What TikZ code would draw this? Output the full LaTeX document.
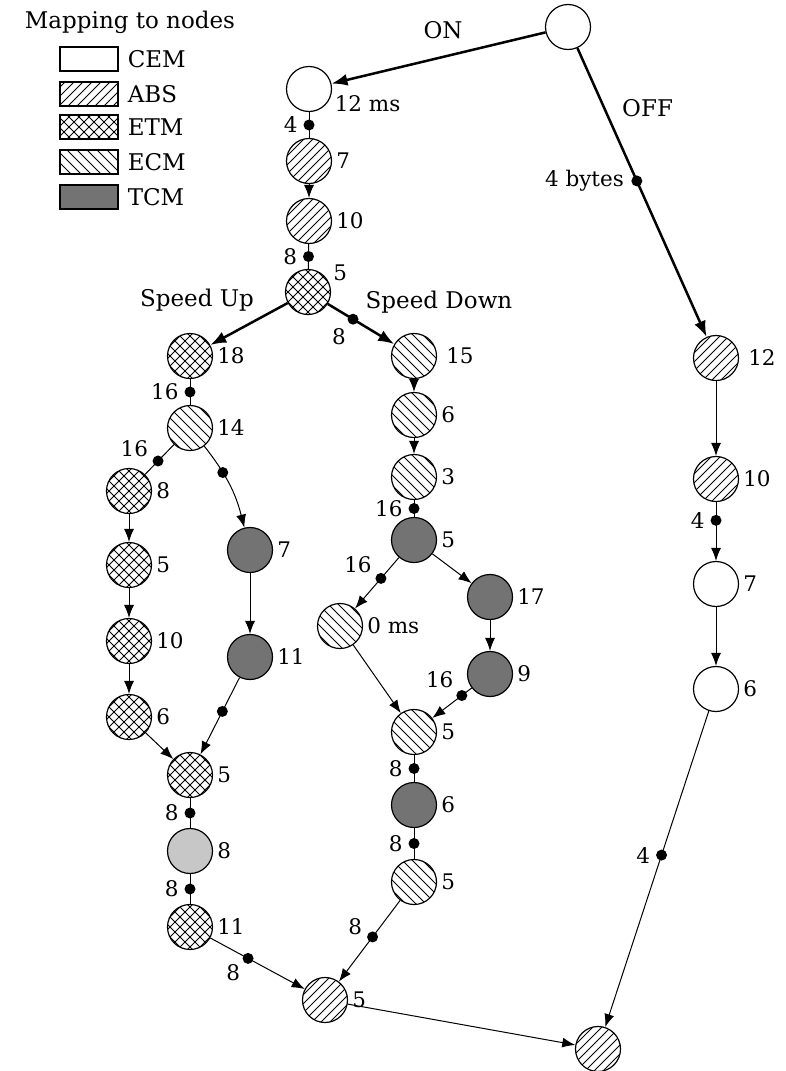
\documentclass[tikz,border=0pt]{standalone}
\usepackage{fontspec}
\setmainfont{DejaVu Serif}
\usetikzlibrary{arrows.meta}
\begin{document}
\begin{tikzpicture}[x=1pt,y=-1pt,
  every node/.style={font=\fontsize{21.5}{24}\selectfont},
  every label/.style={inner sep=1pt},
  label distance=3pt,
  big/.style={font=\fontsize{23}{26}\selectfont},
  hl/.style={line width=0.9pt},
  nd/.style={circle,draw,line width=1.2pt,minimum size=45pt,inner sep=0pt},
  pABS/.style={path picture={\foreach \i in {-81,-72,...,81}
      {\draw[hl] ([shift={(\i-40,40)}]path picture bounding box.center) -- ++(80,-80);}}},
  pECM/.style={path picture={\foreach \i in {-80,-70,...,80}
      {\draw[hl] ([shift={(\i-40,-40)}]path picture bounding box.center) -- ++(80,80);}}},
  pETM/.style={path picture={\foreach \i in {-80,-70,...,80}
      {\draw[hl] ([shift={(\i-40,40)}]path picture bounding box.center) -- ++(80,-80);
       \draw[hl] ([shift={(\i-40,-40)}]path picture bounding box.center) -- ++(80,80);}}},
  pTCM/.style={fill=black!55},
  pDOT/.style={fill=black!22},
  cem/.style={nd,fill=white},
  abs/.style={nd,pABS},
  ecm/.style={nd,pECM},
  etm/.style={nd,pETM},
  tcm/.style={nd,pTCM},
  dtn/.style={nd,pDOT},
  lgbox/.style={draw,line width=1.2pt,rectangle,minimum width=58pt,minimum height=24pt,inner sep=0pt},
  txt/.style={inner sep=0pt,big},
  ed/.style={line width=1pt},
  edA/.style={line width=1pt,-{Latex[length=13pt,width=10pt]}},
  thk/.style={line width=2.5pt,-{Latex[length=16pt,width=12pt]}},
  dotn/.style={circle,fill=black,minimum size=11pt,inner sep=0pt}
]
\useasboundingbox (0,0) rectangle (786,1071);

% legend
\node[txt] (ltitle) at (130,22) {Mapping to nodes};
\node[lgbox,fill=white,label={[label distance=8pt,big]east:CEM}] (lgCEM) at (89,59) {};
\node[lgbox,pABS,label={[label distance=8pt,big]east:ABS}] (lgABS) at (89,94) {};
\node[lgbox,pETM,label={[label distance=8pt,big]east:ETM}] (lgETM) at (89,127) {};
\node[lgbox,pECM,label={[label distance=8pt,big]east:ECM}] (lgECM) at (89,162) {};
\node[lgbox,pTCM,label={[label distance=8pt,big]east:TCM}] (lgTCM) at (89,197) {};

% nodes
\node[cem] (top) at (568,27) {};
\node[cem,label={[label distance=2pt]-12:12 ms}] (n12) at (309,89) {};
\node[abs,label=east:7] (a7) at (309,161) {};
\node[abs,label=east:10] (a10) at (309,221) {};
\node[etm,label=22:5] (e5) at (308,292) {};
\node[etm,label=east:18] (t18) at (190,356) {};
\node[ecm,label=east:14] (c14) at (190,428) {};
\node[ecm,label={[label distance=8pt]east:15}] (c15) at (414,356) {};
\node[ecm,label=east:6] (c6) at (414,415) {};
\node[ecm,label=east:3] (c3) at (414,477) {};
\node[tcm,label=east:5] (t5) at (414,540) {};
\node[ecm,label=east:0 ms] (c0) at (340,626) {};
\node[tcm,label=east:17] (t17) at (490,597) {};
\node[tcm,label=east:9] (t9) at (490,674) {};
\node[ecm,label=east:5] (c5) at (414,732) {};
\node[tcm,label=east:6] (t6) at (414,805) {};
\node[ecm,label=east:5] (c5b) at (414,882) {};
\node[abs,label=east:5] (a5) at (325,1000) {};
\node[abs] (af) at (598,1049) {};
\node[etm,label=east:8] (m8) at (129,491) {};
\node[etm,label=east:5] (m5) at (129,565) {};
\node[etm,label=east:10] (m10) at (129,641) {};
\node[etm,label=east:6] (m6) at (129,717) {};
\node[tcm,label=east:7] (k7) at (250,550) {};
\node[tcm,label=east:11] (k11) at (250,657) {};
\node[etm,label=east:5] (m5b) at (190,775) {};
\node[dtn,label=east:8] (g8) at (190,851) {};
\node[etm,label=east:11] (m11) at (190,927) {};
\node[abs,label={[label distance=8pt]east:12}] (a12) at (716,358) {};
\node[abs,label=east:10] (a10r) at (716,479) {};
\node[cem,label=east:7] (w7) at (716,584) {};
\node[cem,label=east:6] (w6) at (716,689) {};

% edge labels
\node[txt] (lON) at (443,30) {ON};
\node[txt,anchor=west] (lOFF) at (622,108) {OFF};
\node[txt] (lSU) at (197,300) {Speed Up};
\node[txt] (lSD) at (439,302) {Speed Down};

% edges
\draw[thk] (top) -- (n12);
\draw[thk] (top) -- node[dotn,pos=0.46,label={[label distance=4pt]west:4 bytes}] {} (a12);
\draw[ed] (n12) -- node[dotn,pos=0.5,label={[label distance=4pt]west:4}] {} (a7);
\draw[edA] (a7) -- (a10);
\draw[ed] (a10) -- node[dotn,pos=0.5,label={[label distance=4pt]west:8}] {} (e5);
\draw[thk] (e5) -- (t18);
\draw[thk] (e5) -- node[dotn,pos=0.38,label={[label distance=2pt]-125:8}] {} (c15);
\draw[ed] (t18) -- node[dotn,pos=0.5,label={[label distance=4pt]west:16}] {} (c14);
\draw[ed] (c14) -- node[dotn,pos=0.55,label={[label distance=3pt]160:16}] {} (m8);
\draw[edA] (c14) to[bend left=12] node[dotn,pos=0.34] {} (k7);
\draw[edA] (m8) -- (m5);
\draw[edA] (m5) -- (m10);
\draw[edA] (m10) -- (m6);
\draw[edA] (m6) -- (m5b);
\draw[edA] (k7) -- (k11);
\draw[edA] (k11) -- node[dotn,pos=0.44] {} (m5b);
\draw[ed] (m5b) -- node[dotn,pos=0.5,label={[label distance=4pt]west:8}] {} (g8);
\draw[ed] (g8) -- node[dotn,pos=0.5,label={[label distance=4pt]west:8}] {} (m11);
\draw[edA] (m11) -- node[dotn,pos=0.40,label={[label distance=2pt]215:8}] {} (a5);
\draw[edA] (c15) -- (c6);
\draw[edA] (c6) -- (c3);
\draw[ed] (c3) -- node[dotn,pos=0.5,label={[label distance=4pt]west:16}] {} (t5);
\draw[edA] (t5) -- node[dotn,pos=0.41,label={[label distance=3pt]150:16}] {} (c0);
\draw[edA] (t5) -- (t17);
\draw[edA] (t17) -- (t9);
\draw[edA] (c0) -- (c5);
\draw[edA] (t9) -- node[dotn,pos=0.25,label={[label distance=3pt]140:16}] {} (c5);
\draw[ed] (c5) -- node[dotn,pos=0.5,label={[label distance=4pt]west:8}] {} (t6);
\draw[ed] (t6) -- node[dotn,pos=0.5,label={[label distance=4pt]west:8}] {} (c5b);
\draw[edA] (c5b) -- node[dotn,pos=0.45,label={[label distance=3pt]175:8}] {} (a5);
\draw[edA] (a5) -- (af);
\draw[edA] (a12) -- (a10r);
\draw[edA] (a10r) -- node[dotn,pos=0.31,label={[label distance=4pt]west:4}] {} (w7);
\draw[edA] (w7) -- (w6);
\draw[edA] (w6) -- node[dotn,pos=0.456,label={[label distance=4pt]west:4}] {} (af);
\end{tikzpicture}
\end{document}
